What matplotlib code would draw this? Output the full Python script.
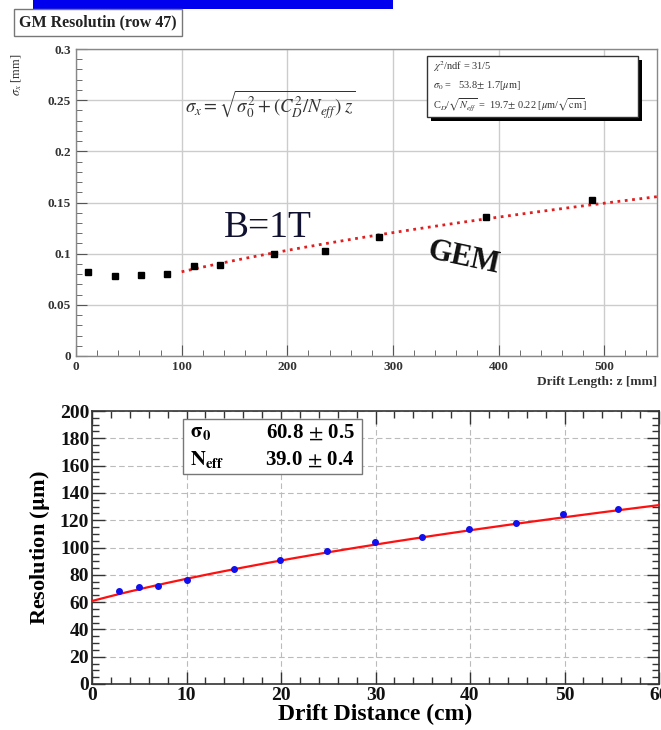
import numpy as np
import matplotlib
matplotlib.use("Agg")
import matplotlib.pyplot as plt
from matplotlib.ticker import MultipleLocator
from matplotlib.patches import Rectangle

# ---------------- data: top panel (GEM, B=1T) ----------------
top_z_mm = [11, 37, 62, 86, 112, 136, 187, 236, 287, 388, 488]
top_sigma_mm = [0.082, 0.078, 0.079, 0.080, 0.088, 0.089, 0.100, 0.103, 0.116, 0.136, 0.152]
top_sigma0_um = 53.8
top_cd_um = 19.7           # C_D/sqrt(N_eff) [um/sqrt(cm)]
top_fit_range = (100, 550)
top_xticks = [0, 100, 200, 300, 400, 500]
top_yticks = [0, 0.05, 0.1, 0.15, 0.2, 0.25, 0.3]
top_yticklabels = ["0", "0.05", "0.1", "0.15", "0.2", "0.25", "0.3"]

# ---------------- data: bottom panel ----------------
bot_z_cm = [2.9, 5.0, 7.0, 10.0, 15.0, 19.9, 24.9, 29.9, 34.9, 39.9, 44.9, 49.8, 55.7]
bot_res_um = [68.0, 70.7, 72.1, 76.0, 84.4, 91.0, 97.2, 104.0, 107.4, 113.6, 117.7, 124.7, 128.3]
bot_sigma0 = 60.8
bot_neff = 39.0
bot_cd = 93.6              # um/sqrt(cm)

serif = "Liberation Serif"
plt.rcParams["font.family"] = [serif, "DejaVu Serif"]
plt.rcParams["mathtext.fontset"] = "stix"

fig = plt.figure(figsize=(6.61, 7.30), dpi=100)

# blue banner (cut off at top)
fig.patches.append(Rectangle((33 / 661, 1 - 9 / 730), 360 / 661, 9 / 730,
                             transform=fig.transFigure, facecolor="#0000ee",
                             edgecolor="none", zorder=0))
# title box
fig.text(98 / 661, 1 - 22.5 / 730, "GM Resolutin (row 47)", ha="center", va="center",
         fontsize=11.5, fontweight="bold", color="#222222",
         bbox=dict(boxstyle="square,pad=0.35", facecolor="white", edgecolor="#777777", lw=1.0))

# ================= TOP AXES =================
ax1 = fig.add_axes([76 / 661, 1 - 356 / 730, 581 / 661, 307 / 730])
ax1.set_xlim(0, 550)
ax1.set_ylim(0, 0.3)
ax1.set_xticks(top_xticks)
ax1.set_yticks(top_yticks)
ax1.set_yticklabels(top_yticklabels)
ax1.xaxis.set_minor_locator(MultipleLocator(20))
ax1.yaxis.set_minor_locator(MultipleLocator(0.01))
ax1.grid(True, which="major", color="#cccccc", lw=1.0)
ax1.tick_params(which="both", direction="in", top=False, right=False, labelsize=9.5,
                colors="#555555", labelcolor="#333333")
ax1.tick_params(which="major", length=8)
ax1.tick_params(which="minor", length=4)
for lab in ax1.get_xticklabels() + ax1.get_yticklabels():
    lab.set_fontweight("bold")
for s in ax1.spines.values():
    s.set_color("#888888")
    s.set_linewidth(1.0)

ax1.plot(top_z_mm, top_sigma_mm, "s", color="black", ms=5, zorder=4)
zf = np.linspace(top_fit_range[0], top_fit_range[1], 200)
fit_top = np.sqrt(top_sigma0_um ** 2 + top_cd_um ** 2 * zf / 10.0) / 1000.0
ax1.plot(zf, fit_top, ":", color="#e02020", lw=2.0, zorder=3)

ax1.text(1.0, -0.085, "Drift Length: z [mm]", transform=ax1.transAxes, ha="right",
         va="center", fontsize=9.5, fontweight="bold", color="#333333")
fig.text(17 / 661, 1 - 75 / 730, r"$\sigma_x$ [mm]", rotation=90, ha="center",
         va="center", fontsize=9, color="#333333")

fig.text(270 / 661, 1 - 105 / 730,
         r"$\sigma_x = \sqrt{\sigma_0^2 + (C_D^2/N_{eff})\; z}$",
         ha="center", va="center", fontsize=13.5, color="#333333")

# stats box with shadow
bx0, by0, bw, bh = 427 / 661, 1 - 117 / 730, 211 / 661, 61 / 730
fig.patches.append(Rectangle((bx0 + 4 / 661, by0 - 4 / 730), bw, bh, transform=fig.transFigure,
                             facecolor="black", edgecolor="none", zorder=5))
fig.patches.append(Rectangle((bx0, by0), bw, bh, transform=fig.transFigure,
                             facecolor="white", edgecolor="#333333", lw=1.0, zorder=6))
stats_lines = [r"$\chi^2$/ndf = 31/5",
               r"$\sigma_0$ =   53.8$\pm$ 1.7[$\mu$m]",
               r"C$_D$/$\sqrt{N_{eff}}$ =  19.7$\pm$ 0.22 [$\mu$m/$\sqrt{\rm cm}$]"]
for i, t in enumerate(stats_lines):
    fig.text(bx0 + 6 / 661, 1 - (67 + i * 19) / 730, t, ha="left", va="center",
             fontsize=7.5, color="#333333", zorder=7)

ax1.text(182, 0.125, "B=1T", ha="center", va="center", fontsize=27, color="#101030",
         family=serif, zorder=5)
ax1.text(367, 0.096, "GEM", ha="center", va="center", fontsize=22, fontweight="bold",
         color="#111111", rotation=-12, family=serif, zorder=5)

# ================= BOTTOM AXES =================
ax2 = fig.add_axes([92 / 661, 1 - 684 / 730, 567 / 661, 273 / 730])
ax2.set_xlim(0, 60)
ax2.set_ylim(0, 200)
ax2.xaxis.set_major_locator(MultipleLocator(10))
ax2.xaxis.set_minor_locator(MultipleLocator(2))
ax2.yaxis.set_major_locator(MultipleLocator(20))
ax2.yaxis.set_minor_locator(MultipleLocator(5))
ax2.grid(True, which="major", color="#bbbbbb", lw=0.8, linestyle=(0, (5, 3)))
ax2.tick_params(which="both", direction="in", top=True, right=True, labelsize=14,
                colors="#333333", pad=2)
ax2.tick_params(which="major", length=9, width=1.0)
ax2.tick_params(which="minor", length=5, width=1.0)
for lab in ax2.get_xticklabels() + ax2.get_yticklabels():
    lab.set_fontweight("bold")
    lab.set_color("#111111")
for s in ax2.spines.values():
    s.set_color("#333333")
    s.set_linewidth(1.2)

zb = np.linspace(0, 60, 200)
fit_bot = np.sqrt(bot_sigma0 ** 2 + bot_cd ** 2 * zb / bot_neff)
ax2.plot(zb, fit_bot, "-", color="#ff1010", lw=1.6, zorder=3)
ax2.plot(bot_z_cm, bot_res_um, "o", color="#1010ee", ms=4, zorder=4)

ax2.set_xlabel("Drift Distance (cm)", fontsize=17, fontweight="bold", labelpad=0)
ax2.set_ylabel(r"Resolution ($\mathbf{\mu}$m)", fontsize=16, fontweight="bold", labelpad=6)

# fit parameter box
fig.patches.append(Rectangle((183 / 661, 1 - 474 / 730), 179 / 661, 55 / 730,
                             transform=fig.transFigure, facecolor="white",
                             edgecolor="#777777", lw=1.0, zorder=6))
fig.text(190 / 661, 1 - 433 / 730, r"$\mathbf{\sigma_0}$", ha="left", va="center",
         fontsize=15, zorder=7)
fig.text(190 / 661, 1 - 460 / 730, r"$\mathbf{N_{eff}}$", ha="left", va="center",
         fontsize=15, zorder=7)
fig.text(355 / 661, 1 - 433 / 730, r"60.8$\,\pm\,$0.5", ha="right", va="center",
         fontsize=15, fontweight="bold", zorder=7)
fig.text(355 / 661, 1 - 460 / 730, r"39.0$\,\pm\,$0.4", ha="right", va="center",
         fontsize=15, fontweight="bold", zorder=7)

fig.savefig("out.png", dpi=100)
